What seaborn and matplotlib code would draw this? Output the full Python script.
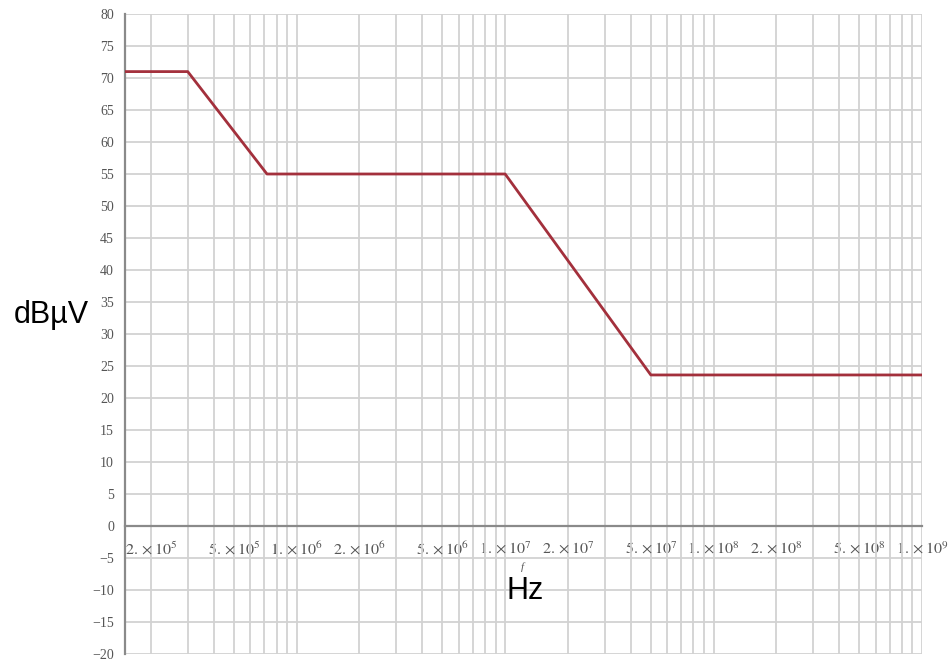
import matplotlib
matplotlib.use("Agg")
import matplotlib.pyplot as plt
from matplotlib.ticker import FixedLocator, LogLocator, NullFormatter, FixedFormatter
import numpy as np
import pandas as pd
import seaborn as sns

# Limit curve: corner frequencies (Hz) and levels (dBµV)
freq_hz = [1.5e5, 3.0e5, 7.2e5, 1.0e7, 5.0e7, 1.0e9]
level_dbuv = [71.0, 71.0, 55.0, 55.0, 23.6, 23.6]

# Axis ticks
x_tick_values = [2e5, 5e5, 1e6, 2e6, 5e6, 1e7, 2e7, 5e7, 1e8, 2e8, 5e8, 1e9]
x_tick_labels = [r"$2.\times10^{5}$", r"$5.\times10^{5}$", r"$1.\times10^{6}$",
                 r"$2.\times10^{6}$", r"$5.\times10^{6}$", r"$1.\times10^{7}$",
                 r"$2.\times10^{7}$", r"$5.\times10^{7}$", r"$1.\times10^{8}$",
                 r"$2.\times10^{8}$", r"$5.\times10^{8}$", r"$1.\times10^{9}$"]
y_tick_values = list(range(-20, 81, 5))

df = pd.DataFrame({"freq": freq_hz, "level": level_dbuv})

sns.set_style("white")
plt.rcParams["font.family"] = ["Liberation Serif", "DejaVu Serif"]
plt.rcParams["mathtext.fontset"] = "stix"

W, H = 949, 662
fig = plt.figure(figsize=(W / 100, H / 100), dpi=100)
ax = fig.add_axes([125 / W, (H - 654) / H, (922 - 125) / W, (654 - 14) / H])

grid_color = "#d2d2d2"
axis_color = "#8a8a8a"
text_color = "#555555"

sns.lineplot(data=df, x="freq", y="level", ax=ax, color="#a3303c",
             linewidth=2.0, zorder=3)

ax.set_xscale("log")
ax.set_xlim(1.5e5, 1e9)
ax.set_ylim(-20, 80)

# Vertical grid at every 1..9 x 10^n, horizontal grid every 5 dB
ax.xaxis.set_major_locator(FixedLocator(x_tick_values))
ax.xaxis.set_major_formatter(FixedFormatter(x_tick_labels))
ax.xaxis.set_minor_locator(LogLocator(base=10, subs=np.arange(1, 10), numticks=100))
ax.xaxis.set_minor_formatter(NullFormatter())
ax.yaxis.set_major_locator(FixedLocator(y_tick_values))

ax.grid(True, which="both", axis="x", color=grid_color, linewidth=1.3, zorder=0)
ax.grid(True, which="major", axis="y", color=grid_color, linewidth=1.3, zorder=0)
ax.set_axisbelow(True)

for side in ("top", "right"):
    ax.spines[side].set_visible(False)
ax.spines["left"].set_color(axis_color)
ax.spines["left"].set_linewidth(1.6)
ax.spines["bottom"].set_position(("data", 0))
ax.spines["bottom"].set_color(axis_color)
ax.spines["bottom"].set_linewidth(1.6)

ax.tick_params(axis="y", which="major", direction="out", length=6, width=1,
               color=grid_color, pad=2, labelsize=10, labelcolor=text_color)
ax.tick_params(axis="x", which="major", direction="out", length=3, width=1,
               color=axis_color, pad=8, labelsize=11.5, labelcolor=text_color)
ax.tick_params(axis="x", which="minor", length=0, bottom=False)

ax.set_xlabel("")
ax.set_ylabel("")

# Axis labels
fig.text(522 / W, 1 - 567 / H, "f", fontsize=8, style="italic",
         color=text_color, ha="center", va="center")
fig.text(525 / W, 1 - 591 / H, "Hz", fontsize=22, family="Liberation Sans",
         color="black", ha="center", va="center")
fig.text(51 / W, 1 - 315 / H, "dBµV", fontsize=22, family="Liberation Sans",
         color="black", ha="center", va="center")

fig.savefig("out.png", dpi=100)
